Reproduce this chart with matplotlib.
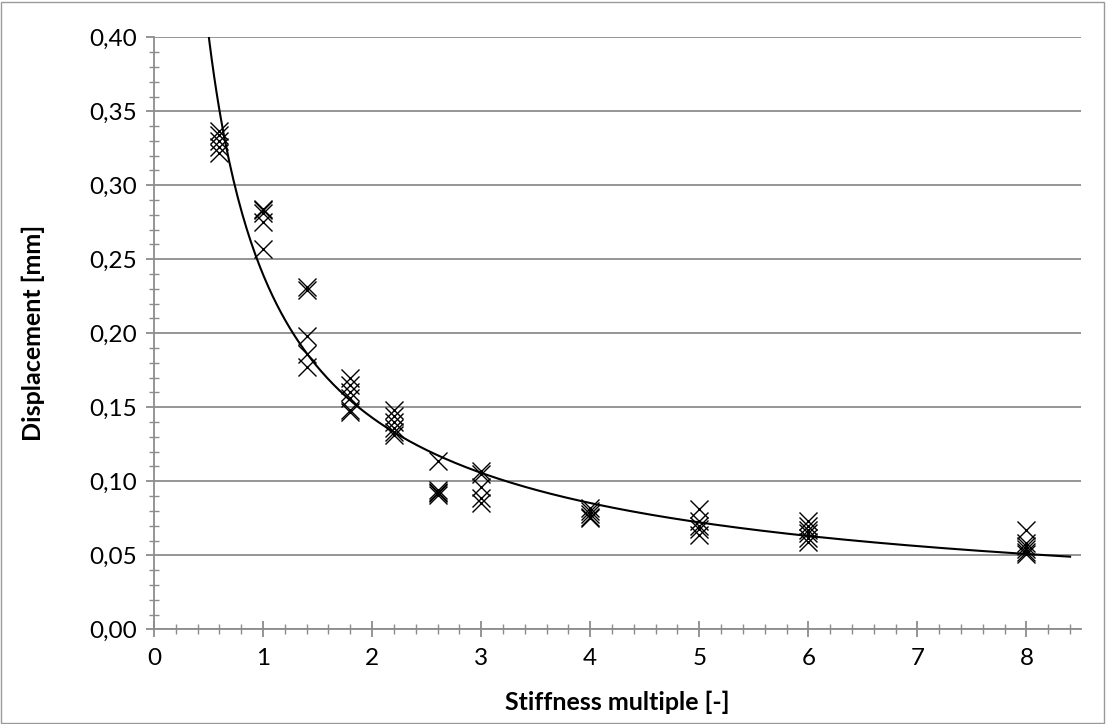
import numpy as np
import matplotlib
matplotlib.use("Agg")
import matplotlib.pyplot as plt
from matplotlib.ticker import MultipleLocator, FuncFormatter
from matplotlib.patches import Rectangle

# Measured displacement for each stiffness multiple
stiffness_levels = [0.6, 1.0, 1.4, 1.8, 2.2, 2.6, 3.0, 4.0, 5.0, 6.0, 8.0]
displacement_runs = [
    [0.337, 0.334, 0.330, 0.326, 0.322],          # 0.6
    [0.284, 0.283, 0.281, 0.275, 0.257],          # 1.0
    [0.231, 0.229, 0.198, 0.186, 0.177],          # 1.4
    [0.170, 0.165, 0.160, 0.156, 0.148, 0.147],   # 1.8
    [0.148, 0.144, 0.140, 0.136, 0.133, 0.131],   # 2.2
    [0.114, 0.094, 0.093, 0.092, 0.091],          # 2.6
    [0.107, 0.105, 0.096, 0.089, 0.085],          # 3.0
    [0.082, 0.080, 0.078, 0.076, 0.075],          # 4.0
    [0.081, 0.073, 0.070, 0.068, 0.064],          # 5.0
    [0.073, 0.070, 0.067, 0.065, 0.062, 0.059],   # 6.0
    [0.067, 0.058, 0.056, 0.054, 0.052, 0.051],   # 8.0
]

x_tick_labels = ["0", "1", "2", "3", "4", "5", "6", "7", "8"]
x_label = "Stiffness multiple [-]"
y_label = "Displacement [mm]"

# Flatten the runs into x/y pairs
xs = np.concatenate([[s] * len(r) for s, r in zip(stiffness_levels, displacement_runs)])
ys = np.concatenate(displacement_runs)

# Power-law trend y = a * x^b fitted in log-log space
b, ln_a = np.polyfit(np.log(xs), np.log(ys), 1)
a = np.exp(ln_a)
trend_x = np.linspace(0.45, 8.4, 400)
trend_y = a * trend_x ** b

plt.rcParams["font.family"] = ["Lato", "DejaVu Sans"]

W, H = 1106, 724
fig = plt.figure(figsize=(W / 100, H / 100), dpi=100)
left, right, top, bottom = 154, 1081, 37.3, 629.3
ax = fig.add_axes([left / W, 1 - bottom / H, (right - left) / W, (bottom - top) / H])

grid_col = "#8c8c8c"

ax.plot(trend_x, trend_y, color="black", lw=1.5, zorder=3)
ax.plot(xs, ys, linestyle="none", marker="x", markersize=13,
        markeredgewidth=1.0, color="black", zorder=4)

ax.set_xlim(0, 8.5)
ax.set_ylim(0, 0.40)

ax.xaxis.set_major_locator(MultipleLocator(1))
ax.xaxis.set_minor_locator(MultipleLocator(0.2))
ax.set_xticks(range(len(x_tick_labels)))
ax.set_xticklabels(x_tick_labels)
ax.yaxis.set_major_locator(MultipleLocator(0.05))
ax.yaxis.set_minor_locator(MultipleLocator(0.01))
ax.yaxis.set_major_formatter(FuncFormatter(lambda v, p: f"{v:.2f}".replace(".", ",")))

ax.grid(axis="y", which="major", color=grid_col, lw=1.3, zorder=1)
ax.set_axisbelow(True)

for side in ("top", "right"):
    ax.spines[side].set_visible(False)
for side in ("left", "bottom"):
    ax.spines[side].set_color(grid_col)
    ax.spines[side].set_linewidth(1.3)

tick_fs = 17.5
title_fs = 18

ax.tick_params(axis="x", which="major", direction="inout", length=11, width=1.3,
               color=grid_col, labelsize=tick_fs, pad=8, labelcolor="black")
ax.tick_params(axis="x", which="minor", direction="inout", length=7, width=1.0,
               color=grid_col)
ax.tick_params(axis="y", which="major", direction="out", length=6, width=1.3,
               color=grid_col, labelsize=tick_fs, pad=6, labelcolor="black")
ax.tick_params(axis="y", which="minor", direction="inout", length=7, width=1.0,
               color=grid_col)

fig.text((left + right) / 2 / W, 1 - 702 / H, x_label, ha="center", va="center",
         fontsize=title_fs, fontweight="bold")
fig.text(33 / W, 1 - ((top + bottom) / 2) / H, y_label, ha="center", va="center",
         rotation=90, fontsize=title_fs, fontweight="bold")

# Outer chart frame
fig.patches.append(Rectangle((1 / W, 1 / H), 1 - 3 / W, 1 - 3 / H,
                             transform=fig.transFigure, fill=False,
                             edgecolor="#9a9a9a", lw=1.0))

fig.savefig("out.png", dpi=100)
